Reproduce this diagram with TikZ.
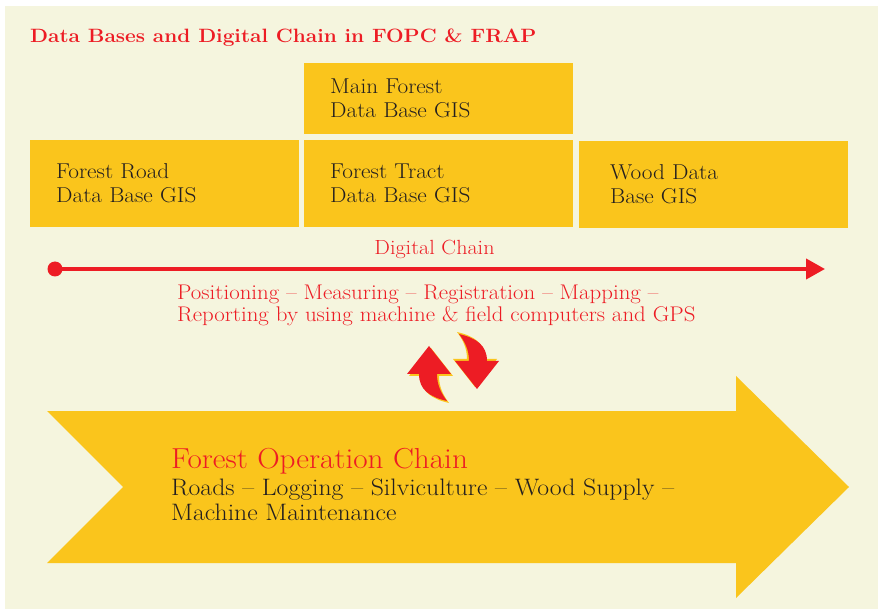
\documentclass[tikz,border=0pt]{standalone}
\usepackage{fontspec}
\setmainfont[FakeStretch=1.08]{Latin Modern Roman}
\usetikzlibrary{arrows.meta}
\definecolor{cream}{RGB}{245,245,222}
\definecolor{gold}{RGB}{250,197,28}
\definecolor{fred}{RGB}{237,28,36}
\definecolor{ink}{RGB}{35,31,32}
\tikzset{
  dbbox/.style={fill=gold, anchor=north west, inner ysep=0pt, align=left, text=ink,
    font=\fontsize{21.5}{24}\selectfont, minimum height=#1},
  redtxt/.style={text=fred, inner sep=0pt},
  curvedarrow/.pic={
    \fill[gold] (2,2) -- ++(22,28) -- ++(-14,0) .. controls ++(0,11) and ++(-6,-8) .. ++(10,27) .. controls ++(-17,-4) and ++(0,16) .. ++(-28,-27) -- ++(-12,0) -- cycle;
    \fill[fred] (0,0) -- ++(22,28) -- ++(-14,0) .. controls ++(0,11) and ++(-6,-8) .. ++(10,27) .. controls ++(-17,-4) and ++(0,16) .. ++(-28,-27) -- ++(-12,0) -- cycle;
  }
}
\begin{document}
\begin{tikzpicture}[x=1pt,y=-1pt]
\useasboundingbox (0,0) rectangle (878,609);
\fill[white] (0,0) rectangle (878,609);
\fill[cream] (5,6) rectangle (878,609);
% title
\node[redtxt, anchor=base west, font=\fontsize{19.3}{22}\selectfont\bfseries] (title) at (30,43) {Data Bases and Digital Chain in FOPC \& FRAP};
% data base boxes
\node[dbbox=71pt, text width=217pt, inner xsep=26pt] (main) at (304,63) {Main Forest\\Data Base GIS};
\node[dbbox=87pt, text width=217pt, inner xsep=26pt] (road) at (30,140) {Forest Road\\Data Base GIS};
\node[dbbox=87pt, text width=217pt, inner xsep=26pt] (tract) at (304,140) {Forest Tract\\Data Base GIS};
\node[dbbox=87pt, text width=207pt, inner xsep=31pt] (wood) at (579,141) {Wood Data\\Base GIS};
% digital chain
\coordinate (cs) at (55,269);
\coordinate (ce) at (825,269);
\draw[fred, line width=4pt, -{Triangle[length=19pt,width=20pt]}] (cs) -- (ce);
\fill[fred] (cs) circle (7.5pt);
\node[redtxt, font=\fontsize{20.5}{22}\selectfont] (dc) at (434.5,249) {Digital Chain};
\node[redtxt, anchor=north west, align=left, font=\fontsize{21.2}{22.5}\selectfont] (steps) at (177,284.5) {Positioning -- Measuring -- Registration -- Mapping --\\Reporting by using machine \& field computers and GPS};
% curved arrows
\pic at (429,346) {curvedarrow};
\pic[rotate=180] at (477,389) {curvedarrow};
% forest operation chain arrow
\fill[gold] (47,411) -- (736,411) -- (736,376) -- (849,487) -- (736,598) -- (736,563) -- (47,563) -- (123,487) -- cycle;
\node[redtxt, anchor=base west, font=\fontsize{28.9}{32}\selectfont] (foc) at (171,468) {Forest Operation Chain};
\node[anchor=north west, inner sep=0pt, align=left, text=ink, font=\fontsize{23.8}{25}\selectfont] (ops) at (171,478.5) {Roads -- Logging -- Silviculture -- Wood Supply --\\Machine Maintenance};
\end{tikzpicture}
\end{document}
